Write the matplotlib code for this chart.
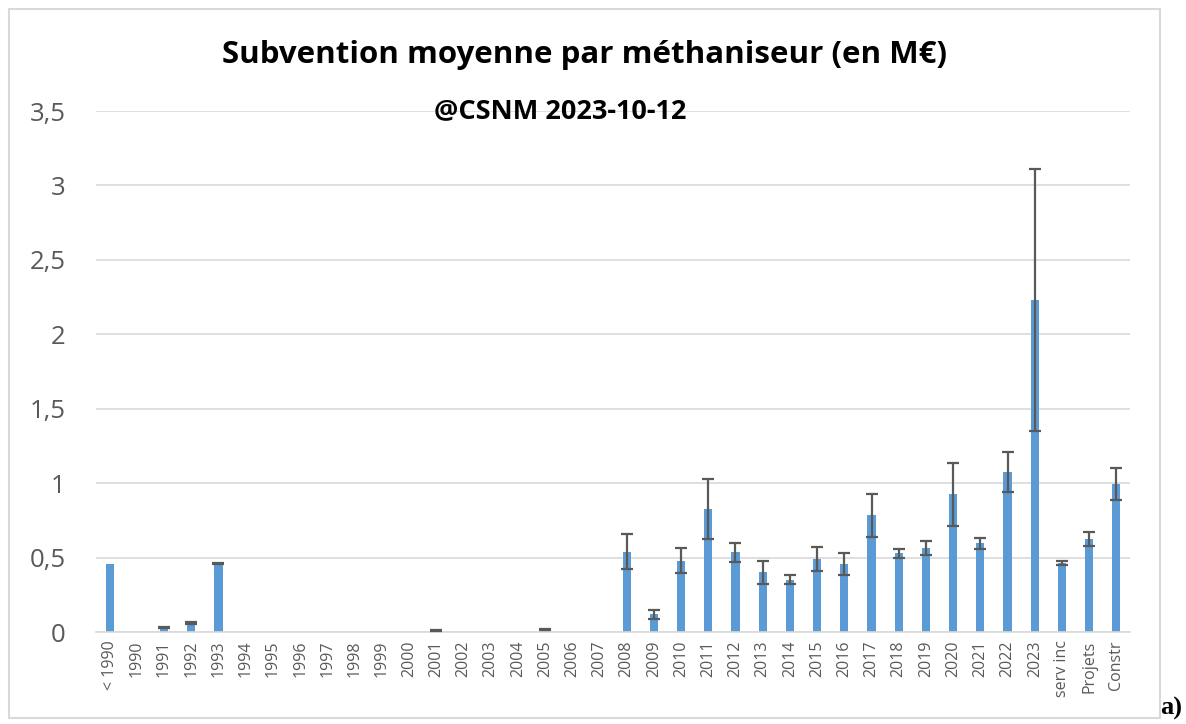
import numpy as np
import matplotlib.pyplot as plt
from matplotlib.patches import Rectangle

categories = ['< 1990', '1990', '1991', '1992', '1993', '1994', '1995', '1996', '1997',
              '1998', '1999', '2000', '2001', '2002', '2003', '2004', '2005', '2006',
              '2007', '2008', '2009', '2010', '2011', '2012', '2013', '2014', '2015',
              '2016', '2017', '2018', '2019', '2020', '2021', '2022', '2023',
              'serv inc', 'Projets', 'Constr']
values = [0.46, 0, 0.03, 0.06, 0.46, 0, 0, 0, 0,
          0, 0, 0, 0.01, 0, 0, 0, 0.015, 0,
          0, 0.54, 0.12, 0.48, 0.825, 0.535, 0.40, 0.35, 0.49,
          0.455, 0.785, 0.53, 0.565, 0.925, 0.595, 1.075, 2.23,
          0.465, 0.625, 0.995]
errors = [np.nan, np.nan, 0.005, 0.006, 0.006, np.nan, np.nan, np.nan, np.nan,
          np.nan, np.nan, np.nan, 0.003, np.nan, np.nan, np.nan, 0.003, np.nan,
          np.nan, 0.12, 0.03, 0.085, 0.2, 0.065, 0.075, 0.03, 0.08,
          0.075, 0.145, 0.03, 0.045, 0.21, 0.035, 0.135, 0.88,
          0.012, 0.045, 0.105]

fig = plt.figure(figsize=(11.86, 7.24), dpi=100)
ax = fig.add_axes([96 / 1186, 92 / 724, 1034 / 1186, 521 / 724])

x = np.arange(len(categories))
ax.bar(x, values, width=0.3, color='#5B9BD5', zorder=2)
ax.errorbar(x, values, yerr=errors, fmt='none', ecolor='#595959', elinewidth=1.6,
            capsize=4.5, capthick=1.6, zorder=3)

ax.set_xlim(-0.5, len(categories) - 0.5)
ax.set_ylim(0, 3.5)
ax.set_yticks(np.arange(0, 3.51, 0.5))
ax.set_yticklabels(['0', '0,5', '1', '1,5', '2', '2,5', '3', '3,5'])
ax.set_xticks(x)
ax.set_xticklabels(categories, rotation=90)
ax.grid(axis='y', color='#D9D9D9', lw=1.2, zorder=0)
for s in ['top', 'right', 'left']:
    ax.spines[s].set_visible(False)
ax.spines['bottom'].set_color('#D9D9D9')
ax.spines['bottom'].set_linewidth(1.2)
ax.tick_params(axis='y', length=0, labelsize=18.5, labelcolor='#595959', pad=22)
ax.tick_params(axis='x', length=0, labelsize=11.5, labelcolor='#595959', pad=6)
for lbl in ax.get_yticklabels() + ax.get_xticklabels():
    lbl.set_family('Open Sans')

fig.text(584 / 1186, 1 - 55 / 724, 'Subvention moyenne par méthaniseur (en M€)',
         ha='center', va='center', fontsize=22.5, fontweight='bold', family='Open Sans')
fig.text(560 / 1186, 1 - 111 / 724, '@CSNM 2023-10-12', ha='center', va='center',
         fontsize=19.5, fontweight='bold', family='Open Sans')
fig.text(1160 / 1186, 1 - 708 / 724, 'a)', ha='left', va='center', fontsize=19,
         fontweight='bold', family='Liberation Serif')

fig.patches.append(Rectangle((9 / 1186, 1 - 718 / 724), 1151 / 1186, 709 / 724,
                             transform=fig.transFigure, fill=False,
                             edgecolor='#D9D9D9', lw=1.5))

fig.savefig('out.png', dpi=100)
